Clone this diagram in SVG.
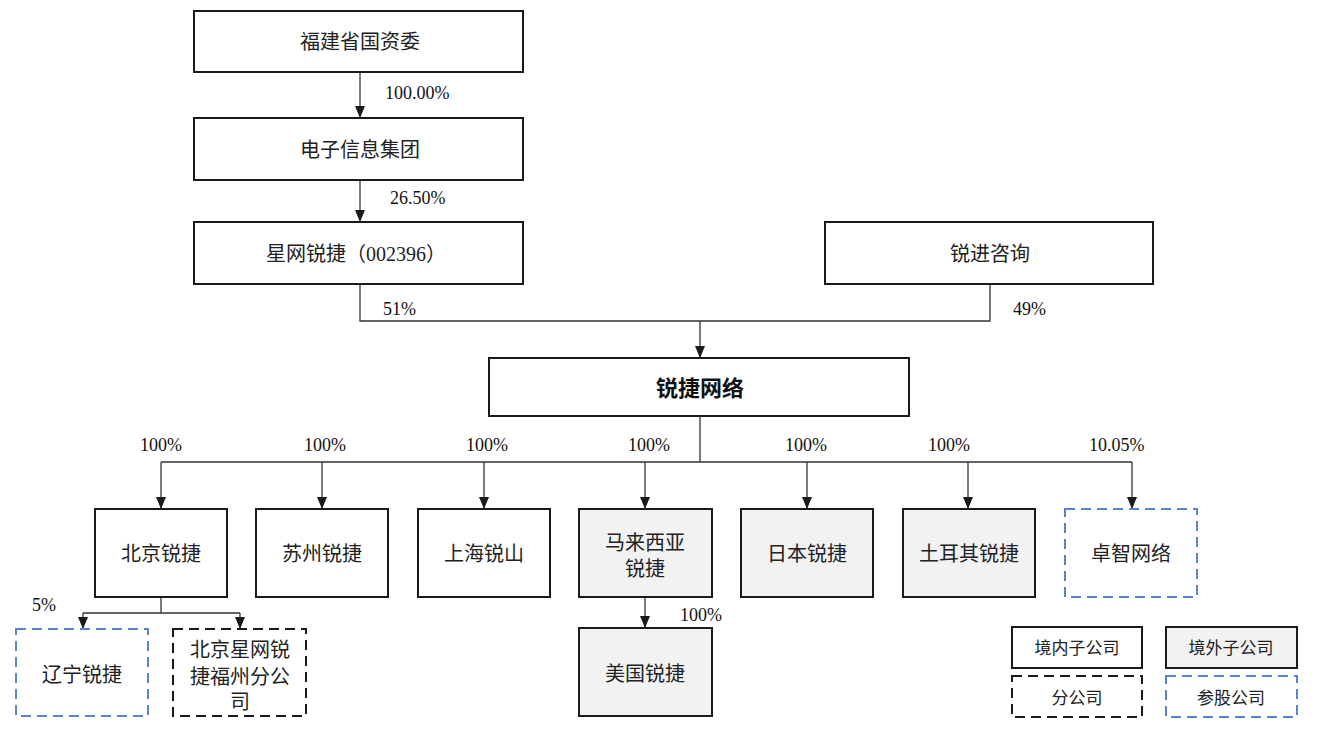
<svg xmlns="http://www.w3.org/2000/svg" width="1324" height="749" viewBox="0 0 1324 749">
<defs>
<marker id="arr" markerUnits="userSpaceOnUse" markerWidth="12" markerHeight="10" viewBox="0 0 12 10" refX="12" refY="5" orient="auto">
<path d="M0,0 L12,5 L0,10 Z" fill="#1a1a1a"/>
</marker>
</defs>
<style>
.box{fill:#ffffff;stroke:#1a1a1a;stroke-width:2}
.gray{fill:#f2f2f2;stroke:#1a1a1a;stroke-width:2}
.dash{fill:#ffffff;stroke:#1a1a1a;stroke-width:2;stroke-dasharray:10 6}
.blue{fill:#ffffff;stroke:#5a82d0;stroke-width:2;stroke-dasharray:10 6}
.t{font-family:"Liberation Serif","Noto Sans CJK SC",serif;font-size:20px;fill:#222;text-anchor:middle;dominant-baseline:central}
.tb{font-family:"Liberation Serif","Noto Sans CJK SC",serif;font-size:22px;font-weight:bold;fill:#111;text-anchor:middle;dominant-baseline:central}
.lg{font-family:"Liberation Serif","Noto Sans CJK SC",serif;font-size:17px;fill:#222;text-anchor:middle;dominant-baseline:central}
.n{font-family:"Liberation Serif","Noto Sans CJK SC",serif;font-size:18px;fill:#111;dominant-baseline:central}
.c{fill:none;stroke:#333;stroke-width:1.3}
.ca{fill:none;stroke:#333;stroke-width:1.3;marker-end:url(#arr)}
</style>
<g id="connectors">
<line class="ca" x1="360" y1="72" x2="360" y2="118"/>
<line class="ca" x1="360" y1="180" x2="360" y2="222"/>
<polyline class="c" points="360,284 360,321 990,321 990,284"/>
<line class="ca" x1="700" y1="321" x2="700" y2="358"/>
<line class="c" x1="700" y1="416" x2="700" y2="462"/>
<line class="c" x1="161" y1="462" x2="1132" y2="462"/>
<line class="ca" x1="161" y1="462" x2="161" y2="509"/>
<line class="ca" x1="322" y1="462" x2="322" y2="509"/>
<line class="ca" x1="484" y1="462" x2="484" y2="509"/>
<line class="ca" x1="645" y1="462" x2="645" y2="509"/>
<line class="ca" x1="807" y1="462" x2="807" y2="509"/>
<line class="ca" x1="968" y1="462" x2="968" y2="509"/>
<line class="ca" x1="1132" y1="462" x2="1132" y2="509"/>
<line class="c" x1="161" y1="597" x2="161" y2="613"/>
<line class="c" x1="83" y1="613" x2="240" y2="613"/>
<line class="ca" x1="83" y1="613" x2="83" y2="629"/>
<line class="ca" x1="240" y1="613" x2="240" y2="629"/>
<line class="ca" x1="645" y1="597" x2="645" y2="628"/>
<text class="n" x="385" y="93">100.00%</text>
<text class="n" x="390" y="198">26.50%</text>
<text class="n" x="383" y="309">51%</text>
<text class="n" x="1013" y="309">49%</text>
<text class="n" x="140" y="445">100%</text>
<text class="n" x="304" y="445">100%</text>
<text class="n" x="466" y="445">100%</text>
<text class="n" x="628" y="445">100%</text>
<text class="n" x="785" y="445">100%</text>
<text class="n" x="928" y="445">100%</text>
<text class="n" x="1089" y="445">10.05%</text>
<text class="n" x="32" y="605">5%</text>
<text class="n" x="680" y="615">100%</text>
</g>
<g id="fujian-sasac"><rect class="box" x="194" y="11" width="329" height="61"/><text class="t" x="360" y="42">福建省国资委</text></g>
<g id="electronic-info-group"><rect class="box" x="194" y="118" width="329" height="62"/><text class="t" x="360" y="150">电子信息集团</text></g>
<g id="star-net"><rect class="box" x="194" y="222" width="329" height="62"/><text class="t" x="356" y="254">星网锐捷（002396）</text></g>
<g id="ruijin"><rect class="box" x="825" y="222" width="328" height="62"/><text class="t" x="990" y="254">锐进咨询</text></g>
<g id="ruijie-network"><rect class="box" x="489" y="358" width="420" height="58"/><text class="tb" x="700" y="388">锐捷网络</text></g>
<g id="beijing"><rect class="box" x="95" y="509" width="132" height="88"/><text class="t" x="161" y="554">北京锐捷</text></g>
<g id="suzhou"><rect class="box" x="256" y="509" width="132" height="88"/><text class="t" x="322" y="554">苏州锐捷</text></g>
<g id="shanghai"><rect class="box" x="418" y="509" width="132" height="88"/><text class="t" x="484" y="554">上海锐山</text></g>
<g id="malaysia"><rect class="gray" x="579" y="509" width="133" height="88"/><text class="t" x="645" y="543">马来西亚</text><text class="t" x="645" y="569">锐捷</text></g>
<g id="japan"><rect class="gray" x="741" y="509" width="132" height="88"/><text class="t" x="807" y="554">日本锐捷</text></g>
<g id="turkey"><rect class="gray" x="903" y="509" width="132" height="88"/><text class="t" x="969" y="554">土耳其锐捷</text></g>
<g id="zhuozhi"><rect class="blue" x="1065" y="509" width="132" height="88"/><text class="t" x="1131" y="554">卓智网络</text></g>
<g id="liaoning"><rect class="blue" x="16" y="629" width="132" height="87"/><text class="t" x="82" y="675">辽宁锐捷</text></g>
<g id="fuzhou-branch"><rect class="dash" x="173" y="629" width="133" height="87"/><text class="t" x="240" y="650">北京星网锐</text><text class="t" x="240" y="677">捷福州分公</text><text class="t" x="240" y="702">司</text></g>
<g id="usa"><rect class="gray" x="579" y="628" width="133" height="88"/><text class="t" x="645" y="674">美国锐捷</text></g>
<g id="legend-domestic"><rect class="box" x="1012" y="627" width="130" height="41"/><text class="lg" x="1077" y="648">境内子公司</text></g>
<g id="legend-overseas"><rect class="gray" x="1166" y="627" width="131" height="41"/><text class="lg" x="1231" y="648">境外子公司</text></g>
<g id="legend-branch"><rect class="dash" x="1012" y="676" width="130" height="41"/><text class="lg" x="1077" y="698">分公司</text></g>
<g id="legend-stake"><rect class="blue" x="1166" y="676" width="131" height="41"/><text class="lg" x="1231" y="698">参股公司</text></g>
</svg>
